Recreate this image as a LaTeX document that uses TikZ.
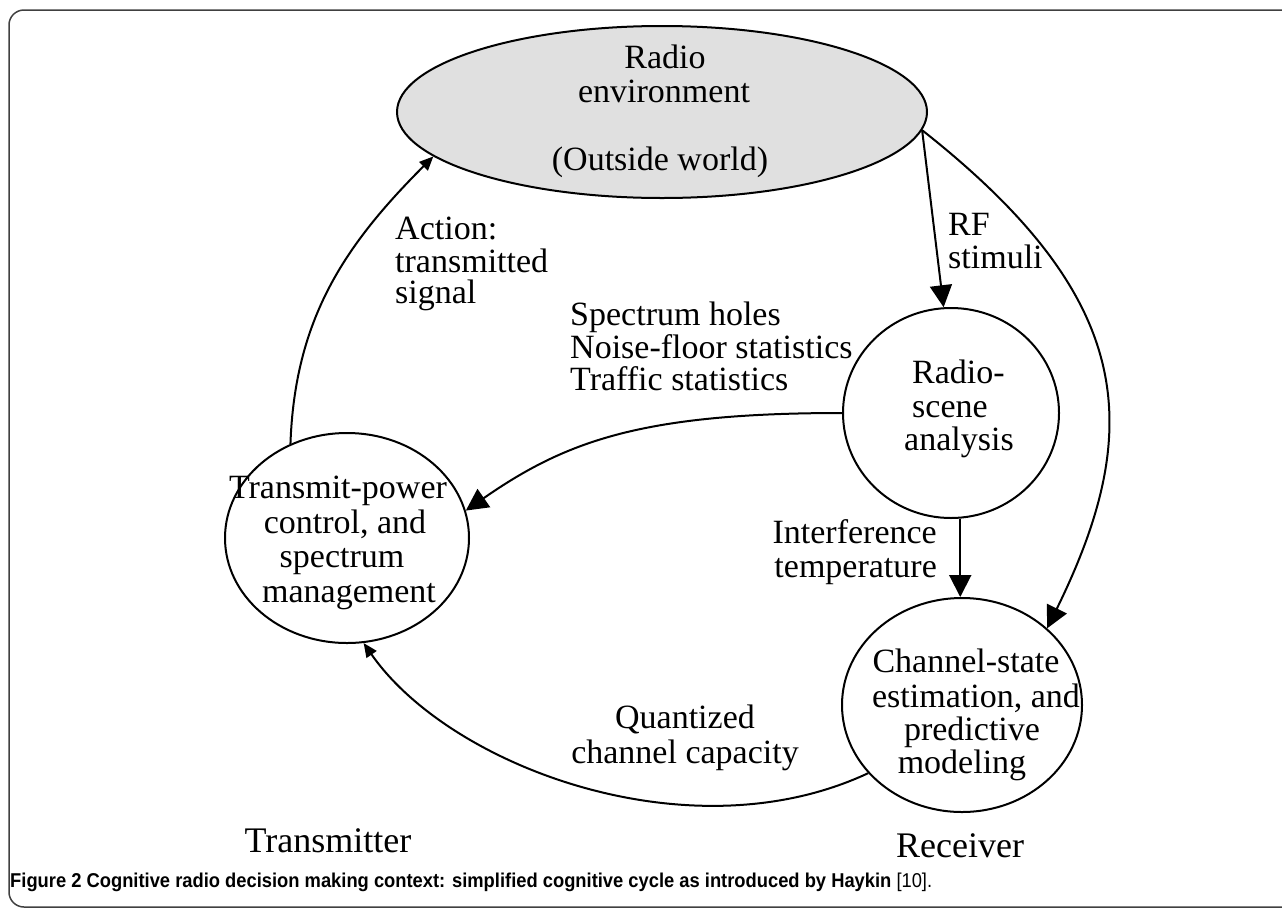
\documentclass[tikz,border=0pt]{standalone}
\usepackage{fontspec}
\setmainfont{Liberation Serif}
\newfontfamily\capfont[FakeStretch=0.917]{Liberation Sans}
\usetikzlibrary{arrows.meta,shapes.geometric}
\begin{document}
\begin{tikzpicture}[x=1pt,y=1pt,
  shp/.style={draw, line width=2pt, ellipse, inner sep=0pt},
  txt/.style={anchor=base, inner sep=0pt, font=\fontsize{34}{34}\selectfont},
  txtw/.style={txt, anchor=base west},
  txte/.style={txt, anchor=base east},
  big/.style={anchor=base, inner sep=0pt, font=\fontsize{36}{36}\selectfont},
  arr/.style={line width=2pt, -{Triangle[width=22pt,length=22pt]}},
  arrs/.style={line width=2pt, -{Triangle[width=12pt,length=14pt]}},
]
\useasboundingbox (0,0) rectangle (1282,-908);
\draw[line width=1.5pt, black!75, rounded corners=15pt] (1300,-10) -- (9,-10) -- (9,-907) -- (1300,-907);

% shapes
\node[shp, fill=black!12, minimum width=530pt, minimum height=172pt] (env) at (662,-112) {};
\node[shp, minimum width=216pt, minimum height=210pt] (scene) at (951,-413) {};
\node[shp, minimum width=240pt, minimum height=214pt] (chan) at (962,-705) {};
\node[shp, minimum width=244pt, minimum height=210pt] (tx) at (347,-538) {};

% texts inside shapes
\node[txt] (envA) at (665,-68) {Radio};
\node[txt] (envB) at (664,-102) {environment};
\node[txt] (envC) at (660,-170) {(Outside world)};

\node[txtw] (scA) at (912,-383) {Radio-};
\node[txtw] (scB) at (912,-417) {scene};
\node[txt] (scC) at (959,-450) {analysis};

\node[txt] (chA) at (966,-672) {Channel-state};
\node[txt] (chB) at (976,-707) {estimation, and};
\node[txt] (chC) at (972,-740) {predictive};
\node[txt] (chD) at (962,-773) {modeling};

\node[txt] (txA) at (338,-498) {Transmit-power};
\node[txt] (txB) at (345,-533) {control, and};
\node[txt] (txC) at (342,-567) {spectrum};
\node[txt] (txD) at (349,-602) {management};

% connectors
\draw[arrs] (tx.121) to[out=88,in=225] (env.191);
\draw[arr] (env.-4) -- (scene.94);
\draw[arr] (env.-4) .. controls (1135,-298) and (1146,-427) .. (chan.42);
\draw[arr] (scene.180) .. controls (642,-413) and (566,-441) .. (tx.13);
\draw[arr] (scene.-85) -- (scene.-85 |- chan.north);
\draw[arrs] (chan.216) .. controls (689,-857) and (449,-766) .. (tx.-81);

% connector labels
\node[txtw] (acA) at (395,-239) {Action:};
\node[txtw] (acB) at (395,-272) {transmitted};
\node[txtw] (acC) at (395,-303) {signal};

\node[txtw] (rfA) at (948,-235) {RF};
\node[txtw] (rfB) at (948,-268) {stimuli};

\node[txtw] (spA) at (570,-325) {Spectrum holes};
\node[txtw] (spB) at (570,-358) {Noise-floor statistics};
\node[txtw] (spC) at (570,-390) {Traffic statistics};

\node[txte] (inA) at (937,-543) {Interference};
\node[txte] (inB) at (937,-577) {temperature};

\node[txt] (qA) at (685,-728) {Quantized};
\node[txt] (qB) at (685,-763) {channel capacity};

\node[big] (trm) at (328,-852) {Transmitter};
\node[big] (rcv) at (960,-857) {Receiver};

\node[anchor=base west, inner sep=0pt, font=\fontsize{20}{20}\selectfont\capfont] (cap) at (10,-887)
  {\textbf{Figure 2 Cognitive radio decision making context: simplified cognitive cycle as introduced by Haykin} [10].};
\end{tikzpicture}
\end{document}
